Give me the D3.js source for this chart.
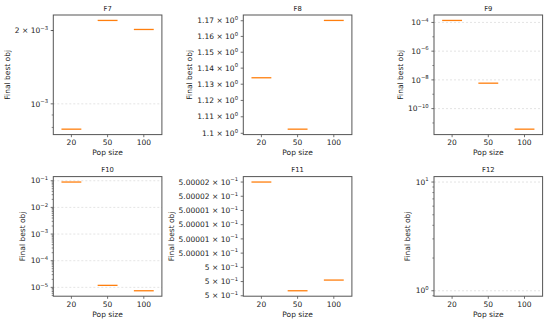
<!DOCTYPE html>
<html>
<head>
<meta charset="utf-8">
<script src="https://cdn.jsdelivr.net/npm/d3@7"></script>
<style>
  body { margin: 0; background: #fff; }
  svg text { font-family: "DejaVu Sans", sans-serif; fill: #222; }
</style>
</head>
<body>
<div id="chart"></div>
<script>
// data (median of final best objective per pop size)
const popSizes = ["20", "50", "100"];
const titles = ["F7", "F8", "F9", "F10", "F11", "F12"];

const f7Best = [7.87e-4, 2.2e-3, 2.02e-3];
const f8Best = [1.134, 1.1025, 1.1702];
const f9Best = [1.38e-4, 5.9e-9, 3.7e-12];
const f10Best = [0.0894, 1.19e-5, 7.46e-6];
const f11Best = [0.500002, 0.500000088, 0.500000276];
const f12Best = [];

// y tick values and their labels ("mantissa × 10^exp")
const f7Ticks = [1e-3, 2e-3];
const f7Labels = ["10^−3", "2 × 10^−3"];
const f8Ticks = [1.10, 1.11, 1.12, 1.13, 1.14, 1.15, 1.16, 1.17];
const f8Labels = ["1.1 × 10^0", "1.11 × 10^0", "1.12 × 10^0", "1.13 × 10^0",
                  "1.14 × 10^0", "1.15 × 10^0", "1.16 × 10^0", "1.17 × 10^0"];
const f9Ticks = [1e-10, 1e-8, 1e-6, 1e-4];
const f9Labels = ["10^−10", "10^−8", "10^−6", "10^−4"];
const f10Ticks = [1e-5, 1e-4, 1e-3, 1e-2, 1e-1];
const f10Labels = ["10^−5", "10^−4", "10^−3", "10^−2", "10^−1"];
const f11Ticks = [0.5, 0.50000025, 0.5000005, 0.50000075, 0.500001,
                  0.50000125, 0.5000015, 0.50000175, 0.500002];
const f11Labels = ["5 × 10^−1", "5 × 10^−1", "5 × 10^−1", "5.00001 × 10^−1", "5.00001 × 10^−1",
                   "5.00001 × 10^−1", "5.00001 × 10^−1", "5.00002 × 10^−1", "5.00002 × 10^−1"];
const f12Ticks = [1, 10];
const f12Labels = ["10^0", "10^1"];

const panels = [
  { title: titles[0], values: f7Best, ticks: f7Ticks, labels: f7Labels, minor: "subs" },
  { title: titles[1], values: f8Best, ticks: f8Ticks, labels: f8Labels, minor: "none" },
  { title: titles[2], values: f9Best, ticks: f9Ticks, labels: f9Labels, minor: "decades" },
  { title: titles[3], values: f10Best, ticks: f10Ticks, labels: f10Labels, minor: "subs" },
  { title: titles[4], values: f11Best, ticks: f11Ticks, labels: f11Labels, minor: "none" },
  { title: titles[5], values: f12Best, ticks: f12Ticks, labels: f12Labels, minor: "subs" }
];

const width = 550, height = 325;
const colX = [53.3, 243.3, 434];
const rowY = [15, 176.6];
const pw = 108.6, ph = 119.6;
const orange = "#ff7f0e";

const svg = d3.select("#chart").append("svg")
  .attr("width", width)
  .attr("height", height);

function logDomain(vals) {
  if (!vals.length) vals = [1, 10];
  const lo = Math.log10(d3.min(vals)), hi = Math.log10(d3.max(vals));
  const m = (hi - lo) * 0.05;
  return [Math.pow(10, lo - m), Math.pow(10, hi + m)];
}

function minorTicks(kind, dom) {
  const out = [];
  const d0 = Math.floor(Math.log10(dom[0])), d1 = Math.ceil(Math.log10(dom[1]));
  for (let d = d0; d <= d1; d++) {
    if (kind === "subs") {
      for (let k = 2; k <= 9; k++) out.push(k * Math.pow(10, d));
    } else if (kind === "decades" && Math.abs(d % 2) === 1) {
      out.push(Math.pow(10, d));
    }
  }
  return out.filter(v => v >= dom[0] && v <= dom[1]);
}

function isDecade(v) {
  const l = Math.log10(v);
  return Math.abs(l - Math.round(l)) < 1e-9;
}

function writeLabel(sel, str) {
  const parts = str.split("^");
  sel.append("tspan").text(parts[0]);
  sel.append("tspan")
    .attr("font-size", 5.3)
    .attr("dy", -3.4)
    .text(parts[1]);
}

panels.forEach((p, i) => {
  const g = svg.append("g")
    .attr("transform", `translate(${colX[i % 3]},${rowY[Math.floor(i / 3)]})`);

  const y = d3.scaleLog().domain(logDomain(p.values)).range([ph, 0]);
  const x = d3.scaleLinear().domain([0.5, 3.5]).range([0, pw]);

  // grid on decade ticks
  g.append("g").selectAll("line")
    .data(p.ticks.filter(isDecade))
    .join("line")
    .attr("x1", 0).attr("x2", pw)
    .attr("y1", d => y(d)).attr("y2", d => y(d))
    .attr("stroke", "#d8d8d8")
    .attr("stroke-width", 0.7)
    .attr("stroke-dasharray", "2,2");

  // medians
  g.append("g").selectAll("line")
    .data(p.values)
    .join("line")
    .attr("x1", (d, j) => x(j + 1) - pw * 0.0915)
    .attr("x2", (d, j) => x(j + 1) + pw * 0.0915)
    .attr("y1", d => y(d)).attr("y2", d => y(d))
    .attr("stroke", orange)
    .attr("stroke-width", 1.3);

  // y axis
  const yAxis = g.append("g");
  yAxis.selectAll(".minor")
    .data(minorTicks(p.minor, y.domain()))
    .join("line")
    .attr("class", "minor")
    .attr("x1", -1.6).attr("x2", 0)
    .attr("y1", d => y(d)).attr("y2", d => y(d))
    .attr("stroke", "#333").attr("stroke-width", 0.6);
  yAxis.selectAll(".major")
    .data(p.ticks)
    .join("line")
    .attr("class", "major")
    .attr("x1", -2.6).attr("x2", 0)
    .attr("y1", d => y(d)).attr("y2", d => y(d))
    .attr("stroke", "#333").attr("stroke-width", 0.7);
  const yLabels = yAxis.append("g");
  yLabels.selectAll("text")
    .data(p.ticks)
    .join("text")
    .attr("x", -5.3)
    .attr("y", d => y(d))
    .attr("dy", "0.36em")
    .attr("text-anchor", "end")
    .attr("font-size", 7.5)
    .each(function (d, j) { writeLabel(d3.select(this), p.labels[j]); });

  // x axis
  const xAxis = g.append("g").attr("transform", `translate(0,${ph})`);
  xAxis.selectAll("line")
    .data(popSizes)
    .join("line")
    .attr("x1", (d, j) => x(j + 1)).attr("x2", (d, j) => x(j + 1))
    .attr("y1", 0).attr("y2", 2.6)
    .attr("stroke", "#333").attr("stroke-width", 0.7);
  xAxis.selectAll("text")
    .data(popSizes)
    .join("text")
    .attr("x", (d, j) => x(j + 1))
    .attr("y", 10.7)
    .attr("text-anchor", "middle")
    .attr("font-size", 7.5)
    .text(d => d);

  // frame
  g.append("rect")
    .attr("width", pw).attr("height", ph)
    .attr("fill", "none")
    .attr("stroke", "#555")
    .attr("stroke-width", 1);

  // labels
  g.append("text")
    .attr("x", pw / 2).attr("y", ph + 20.5)
    .attr("text-anchor", "middle")
    .attr("font-size", 7.5)
    .text("Pop size");

  const lw = yLabels.node().getBBox().width;
  g.append("text")
    .attr("transform", `translate(${-(lw + 5.3 + 3 + 1.8)},${ph / 2}) rotate(-90)`)
    .attr("text-anchor", "middle")
    .attr("font-size", 7.5)
    .text("Final best obj");

  g.append("text")
    .attr("x", pw / 2).attr("y", -4.3)
    .attr("text-anchor", "middle")
    .attr("font-size", 6.8)
    .text(p.title);
});
</script>
</body>
</html>
